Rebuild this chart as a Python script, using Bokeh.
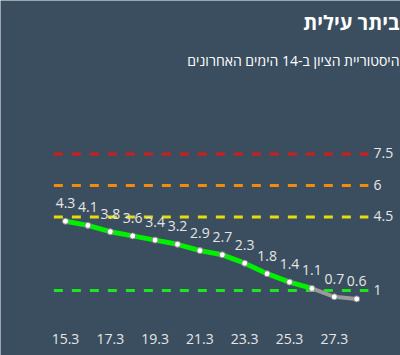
from bokeh.plotting import figure
from bokeh.models import Label, Range1d, ColumnDataSource
from bokeh.core.properties import value
from bokeh.embed import file_html
from bokeh.resources import INLINE

# ---- data ----
dates = ["15.3", "16.3", "17.3", "18.3", "19.3", "20.3", "21.3",
         "22.3", "23.3", "24.3", "25.3", "26.3", "27.3", "28.3"]
scores = [4.3, 4.1, 3.8, 3.6, 3.4, 3.2, 2.9, 2.7, 2.3, 1.8, 1.4, 1.1, 0.7, 0.6]
thresholds = [1, 4.5, 6, 7.5]
threshold_labels = ["1", "4.5", "6", "7.5"]
threshold_colors = ["#1ee61e", "#e6dc0a", "#f08c0a", "#d21c1c"]
title_text = "ביתר עילית"
subtitle_text = "היסטוריית הציון ב-14 הימים האחרונים"

BG = "#3a4e5f"
TXT = "#e6e6e6"
FONT = "Open Sans"

n = len(scores)
idx = list(range(n))

p = figure(width=400, height=355, output_backend="svg", toolbar_location=None,
           x_range=Range1d(-2.902, 14.955), y_range=Range1d(-2.095, 14.81),
           x_axis_location=None, y_axis_location=None,
           min_border_left=0, min_border_right=0, min_border_top=0, min_border_bottom=0,
           background_fill_color=BG, border_fill_color=BG, outline_line_color=None)
p.xgrid.visible = False
p.ygrid.visible = False

# threshold lines
for t, c in zip(thresholds, threshold_colors):
    p.line([-0.52, n - 1 + 0.52], [t, t], line_color=c, line_width=3, line_dash="9 9")
p.text(x=[n - 1 + 0.75] * len(thresholds), y=thresholds, text=threshold_labels,
       text_color=TXT, text_font=value(FONT), text_font_size="14px",
       text_baseline="middle", text_align="left", y_offset=-1)

# main line: green while >= 1, gray after
last_ok = max(i for i, s in enumerate(scores) if s >= 1)
p.line(idx[:last_ok + 1], scores[:last_ok + 1], line_color="#00f000", line_width=5)
p.line(idx[last_ok:], scores[last_ok:], line_color="#9a9a9a", line_width=4)
p.scatter(idx, scores, size=6, fill_color="white", line_color="#888888", line_width=1)

# value labels
src = ColumnDataSource(dict(x=idx, y=scores, t=[f"{s:g}" for s in scores]))
p.text(x="x", y="y", text="t", source=src, text_color=TXT, text_font=value(FONT),
       text_font_size="14px", text_align="center", text_baseline="middle", y_offset=-18)

# x tick labels (every second day)
tick_idx = idx[::2]
p.text(x=tick_idx, y=[0] * len(tick_idx), text=[dates[i] for i in tick_idx],
       text_color=TXT, text_font=value(FONT), text_font_size="14px",
       text_align="center", text_baseline="middle", y_offset=27)

# titles
p.add_layout(Label(x=399, y=333, x_units="screen", y_units="screen", text=title_text,
                   text_align="right", text_baseline="middle", text_color="white",
                   text_font=FONT, text_font_style="bold", text_font_size="20px"))
p.add_layout(Label(x=399, y=295, x_units="screen", y_units="screen", text=subtitle_text,
                   text_align="right", text_baseline="middle", text_color="white",
                   text_font=FONT, text_font_size="14px"))

open("out.html", "w").write(file_html(p, INLINE))
